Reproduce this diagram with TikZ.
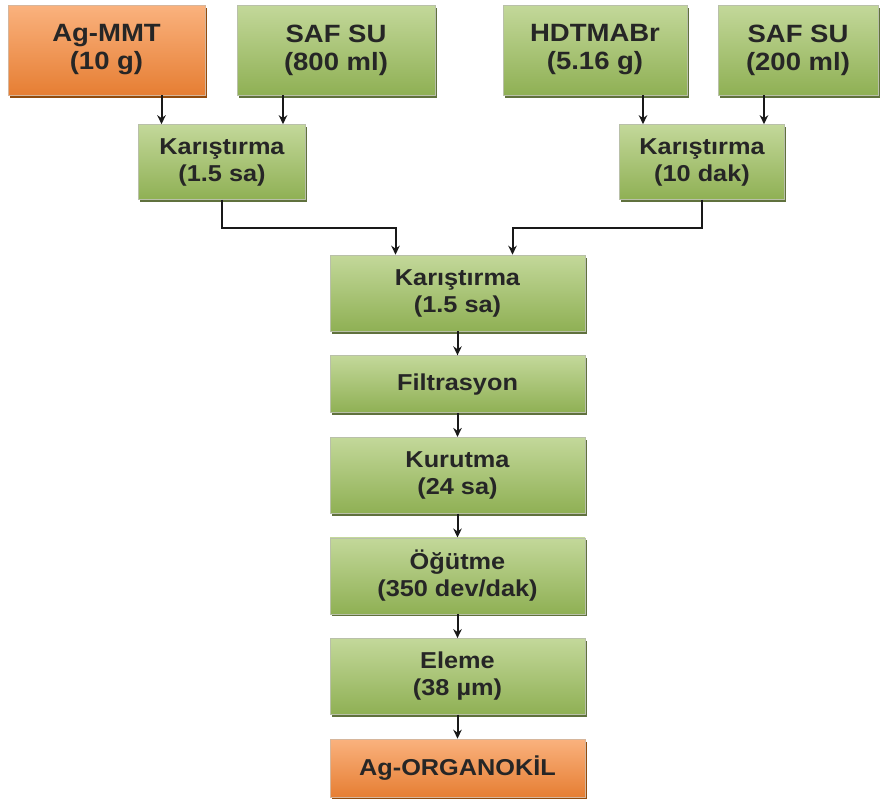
\documentclass[tikz,border=0pt]{standalone}
\usepackage{fontspec}
\setmainfont{Liberation Sans}[FakeStretch=1.1]
\usetikzlibrary{shapes, arrows, arrows.meta, positioning, shadows}

\definecolor{grnTop}{HTML}{C3D89A}
\definecolor{grnMid}{HTML}{A2C065}
\definecolor{grnBot}{HTML}{8FB054}
\definecolor{grnEdge}{HTML}{4F6228}
\definecolor{orgTop}{HTML}{FAB27E}
\definecolor{orgMid}{HTML}{F79646}
\definecolor{orgBot}{HTML}{E67E33}
\definecolor{orgEdge}{HTML}{984807}

\begin{document}
\begin{tikzpicture}[
        x=1pt, y=-1pt,
        box/.style={draw=grnEdge!40, line width=0.6pt, rectangle, align=center, top color=grnTop, middle color=grnMid, bottom color=grnBot, text=black!85, font=\bfseries\fontsize{23}{27}\selectfont, drop shadow={shadow xshift=1.5pt, shadow yshift=-2.5pt, fill=grnEdge, opacity=0.9}},
        inbox/.style={box, minimum height=90pt, font=\bfseries\fontsize{25}{28}\selectfont},
        endbox/.style={top color=orgTop, middle color=orgMid, bottom color=orgBot, draw=orgEdge!40, drop shadow={shadow xshift=1.5pt, shadow yshift=-2.5pt, fill=orgEdge, opacity=0.9}},
        mainbox/.style={box, minimum width=255pt, minimum height=76pt},
        arrow/.style={->, >={Stealth[length=9pt, width=8.5pt]}, line width=2pt, black!90}
    ]
        \useasboundingbox (0,0) rectangle (880,798);

        % starting materials
        \node[inbox, endbox, minimum width=197pt] (agmmt) at (106.5,50) {Ag-MMT\\(10 g)};
        \node[inbox, minimum width=198pt] (safsuA) at (336,50) {SAF SU\\(800 ml)};
        \node[inbox, minimum width=184pt] (hdtma) at (595,50) {HDTMABr\\(5.16 g)};
        \node[inbox, minimum width=160pt] (safsuB) at (798,50) {SAF SU\\(200 ml)};

        % first mixing steps
        \node[box, minimum width=167pt, minimum height=75pt] (mixL) at (222,162) {Karıştırma\\(1.5 sa)};
        \node[box, minimum width=165pt, minimum height=75pt] (mixR) at (702,162) {Karıştırma\\(10 dak)};

        % main line
        \node[mainbox] (mix) at (457.5,293) {Karıştırma\\(1.5 sa)};
        \node[mainbox, minimum height=57pt, below=24pt of mix] (filt) {Filtrasyon};
        \node[mainbox, below=24pt of filt] (kuru) {Kurutma\\(24 sa)};
        \node[mainbox, below=24pt of kuru] (ogut) {Öğütme\\(350 dev/dak)};
        \node[mainbox, below=24pt of ogut] (eleme) {Eleme\\(38 µm)};
        \node[mainbox, endbox, minimum height=58pt, below=24pt of eleme] (organo) {Ag-ORGANOKİL};

        \draw[arrow] ([xshift=55pt]agmmt.south) -- ([xshift=55pt]agmmt.south |- mixL.north);
        \draw[arrow] ([xshift=-53pt]safsuA.south) -- ([xshift=-53pt]safsuA.south |- mixL.north);
        \draw[arrow] ([xshift=48pt]hdtma.south) -- ([xshift=48pt]hdtma.south |- mixR.north);
        \draw[arrow] ([xshift=-34pt]safsuB.south) -- ([xshift=-34pt]safsuB.south |- mixR.north);

        \draw[arrow] (mixL.south) -- ++(0,28) -| ([xshift=-62pt]mix.north);
        \draw[arrow] (mixR.south) -- ++(0,28) -| ([xshift=55pt]mix.north);

        \draw[arrow] (mix) -- (filt);
        \draw[arrow] (filt) -- (kuru);
        \draw[arrow] (kuru) -- (ogut);
        \draw[arrow] (ogut) -- (eleme);
        \draw[arrow] (eleme) -- (organo);
    \end{tikzpicture}
\end{document}
